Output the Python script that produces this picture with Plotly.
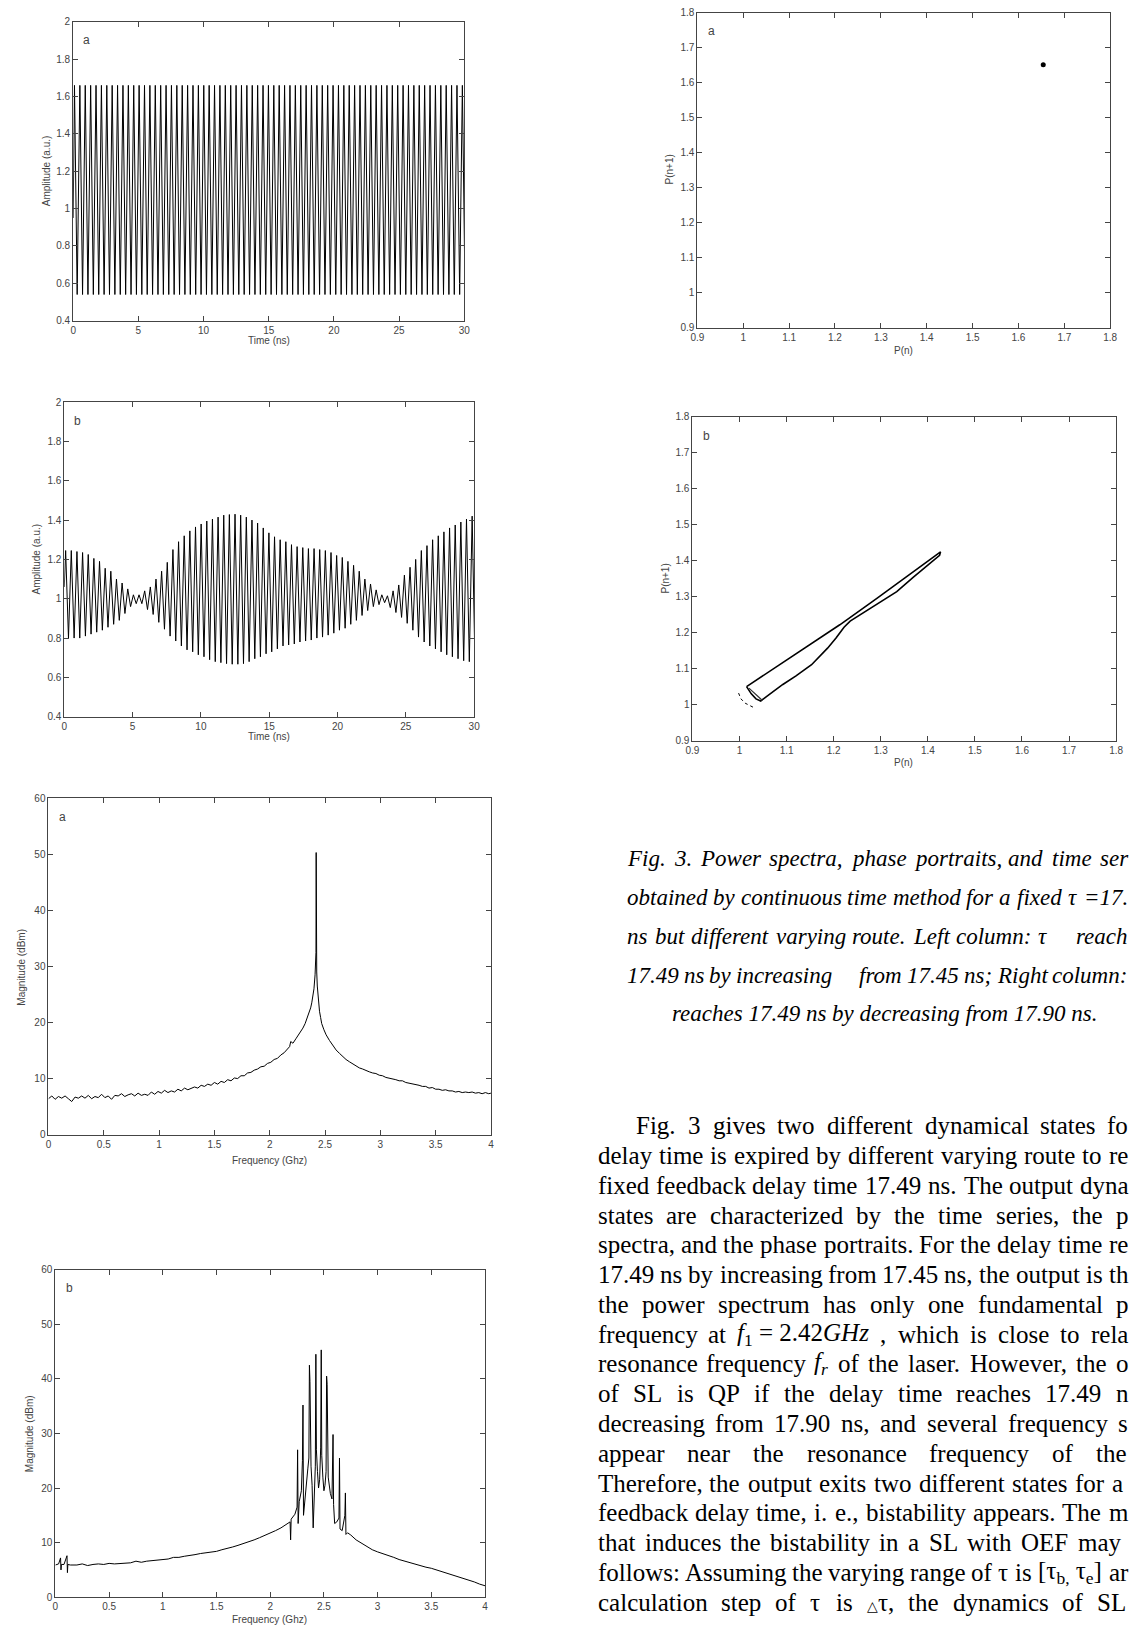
import plotly.graph_objects as go

W, H = 1135, 1633

# ---------------- data ----------------
osc_freq_ghz = 2.42          # oscillation frequency (a)
first_peak_t = 0.10          # ns

# time series (a): amplitude of each successive maximum / minimum
peaks_a = [1.66, 1.66, 1.66, 1.66, 1.66, 1.66, 1.66, 1.66, 1.66, 1.66, 1.66, 1.66, 1.66, 1.66, 1.66,
           1.66, 1.66, 1.66, 1.66, 1.66, 1.66, 1.66, 1.66, 1.66, 1.66, 1.66, 1.66, 1.66, 1.66, 1.66,
           1.66, 1.66, 1.66, 1.66, 1.66, 1.66, 1.66, 1.66, 1.66, 1.66, 1.66, 1.66, 1.66, 1.66, 1.66,
           1.66, 1.66, 1.66, 1.66, 1.66, 1.66, 1.66, 1.66, 1.66, 1.66, 1.66, 1.66, 1.66, 1.66, 1.66,
           1.66, 1.66, 1.66, 1.66, 1.66, 1.66, 1.66, 1.66, 1.66, 1.66, 1.66, 1.66, 1.66]
troughs_a = [0.54, 0.54, 0.54, 0.54, 0.54, 0.54, 0.54, 0.54, 0.54, 0.54, 0.54, 0.54, 0.54, 0.54, 0.54,
             0.54, 0.54, 0.54, 0.54, 0.54, 0.54, 0.54, 0.54, 0.54, 0.54, 0.54, 0.54, 0.54, 0.54, 0.54,
             0.54, 0.54, 0.54, 0.54, 0.54, 0.54, 0.54, 0.54, 0.54, 0.54, 0.54, 0.54, 0.54, 0.54, 0.54,
             0.54, 0.54, 0.54, 0.54, 0.54, 0.54, 0.54, 0.54, 0.54, 0.54, 0.54, 0.54, 0.54, 0.54, 0.54,
             0.54, 0.54, 0.54, 0.54, 0.54, 0.54, 0.54, 0.54, 0.54, 0.54, 0.54, 0.54, 0.54]
start_a = 0.95

# time series (b)
peaks_b = [1.245, 1.245, 1.24, 1.235, 1.225, 1.205, 1.19, 1.155, 1.14, 1.10, 1.08, 1.05, 1.02, 1.02,
           1.04, 1.06, 1.10, 1.14, 1.185, 1.25, 1.29, 1.32, 1.345, 1.365, 1.38, 1.395, 1.405, 1.415,
           1.425, 1.428, 1.43, 1.425, 1.415, 1.40, 1.385, 1.36, 1.335, 1.315, 1.30, 1.29, 1.275, 1.265,
           1.26, 1.255, 1.255, 1.25, 1.245, 1.235, 1.22, 1.21, 1.19, 1.17, 1.14, 1.10, 1.075, 1.045,
           1.02, 1.015, 1.04, 1.07, 1.12, 1.16, 1.20, 1.245, 1.27, 1.30, 1.32, 1.34, 1.36, 1.375,
           1.39, 1.405, 1.42]
troughs_b = [0.80, 0.80, 0.80, 0.81, 0.82, 0.83, 0.84, 0.855, 0.87, 0.89, 0.925, 0.96, 0.975, 0.975,
             0.945, 0.92, 0.88, 0.845, 0.81, 0.785, 0.76, 0.74, 0.73, 0.715, 0.705, 0.69, 0.68, 0.675,
             0.67, 0.667, 0.667, 0.67, 0.68, 0.695, 0.705, 0.72, 0.73, 0.745, 0.76, 0.765, 0.77, 0.78,
             0.785, 0.79, 0.80, 0.805, 0.815, 0.825, 0.84, 0.85, 0.87, 0.89, 0.915, 0.94, 0.96, 0.97,
             0.98, 0.955, 0.93, 0.905, 0.875, 0.84, 0.805, 0.78, 0.76, 0.745, 0.73, 0.715, 0.705, 0.695,
             0.685, 0.68, 0.675]
start_b = 1.06

# power spectrum (a)
freq_a = [0.00, 0.03, 0.06, 0.09, 0.12, 0.15, 0.18, 0.21, 0.24, 0.27, 0.30, 0.33, 0.36, 0.39, 0.42,
          0.45, 0.48, 0.51, 0.54, 0.57, 0.60, 0.63, 0.66, 0.69, 0.72, 0.75, 0.78, 0.81, 0.84, 0.87,
          0.90, 0.93, 0.96, 0.99, 1.02, 1.05, 1.08, 1.11, 1.14, 1.17, 1.20, 1.23, 1.26, 1.29, 1.32,
          1.35, 1.38, 1.41, 1.44, 1.47, 1.50, 1.53, 1.56, 1.59, 1.62, 1.65, 1.68, 1.71, 1.74, 1.77,
          1.80, 1.83, 1.86, 1.89, 1.92, 1.95, 1.98, 2.01, 2.04, 2.07, 2.10, 2.13, 2.16, 2.18, 2.19,
          2.21, 2.24, 2.27, 2.30, 2.32, 2.34, 2.36, 2.37, 2.38, 2.39, 2.40, 2.41, 2.415, 2.418, 2.42,
          2.422, 2.425, 2.43, 2.44, 2.45, 2.46, 2.47, 2.49, 2.51, 2.54, 2.57, 2.60, 2.63, 2.66, 2.69,
          2.72, 2.75, 2.78, 2.81, 2.84, 2.87, 2.90, 2.93, 2.96, 2.99, 3.02, 3.05, 3.08, 3.11, 3.14,
          3.17, 3.20, 3.23, 3.26, 3.29, 3.32, 3.35, 3.38, 3.41, 3.44, 3.47, 3.50, 3.53, 3.56, 3.59,
          3.62, 3.65, 3.68, 3.71, 3.74, 3.77, 3.80, 3.83, 3.86, 3.89, 3.92, 3.95, 3.98, 4.00]
mag_a = [6.4, 6.9, 6.3, 6.8, 6.5, 6.9, 6.4, 5.9, 6.7, 6.5, 6.9, 6.5, 7.0, 6.4, 6.8,
         6.6, 7.2, 6.6, 6.9, 6.3, 7.0, 6.9, 7.3, 6.8, 7.1, 7.3, 6.9, 7.4, 7.0, 7.2,
         7.0, 7.6, 7.2, 7.7, 7.4, 7.9, 7.5, 7.8, 7.6, 8.1, 7.8, 8.3, 8.0, 8.2, 8.5,
         8.3, 8.8, 8.6, 9.0, 8.8, 9.3, 9.0, 9.5, 9.3, 9.8, 9.6, 10.1, 10.0, 10.5, 10.5,
         11.0, 11.1, 11.5, 11.7, 12.1, 12.2, 12.7, 12.9, 13.4, 13.6, 14.2, 14.6, 15.3, 15.7, 16.6,
         16.3, 17.2, 18.0, 19.0, 19.8, 20.8, 21.9, 22.6, 23.5, 24.5, 26.0, 28.5, 31.0, 32.5, 50.3,
         32.0, 29.0, 26.5, 23.8, 22.0, 20.9, 19.8, 18.7, 17.8, 16.8, 15.9, 15.1, 14.5, 13.9, 13.4,
         13.0, 12.6, 12.3, 11.9, 11.7, 11.4, 11.2, 11.0, 10.9, 10.6, 10.5, 10.2, 10.1, 9.9, 9.8,
         9.6, 9.6, 9.3, 9.2, 9.0, 8.9, 8.8, 8.6, 8.6, 8.3, 8.4, 8.1, 8.1, 7.9, 8.0,
         7.8, 7.8, 7.6, 7.7, 7.5, 7.6, 7.5, 7.6, 7.4, 7.5, 7.3, 7.5, 7.3, 7.4]

# power spectrum (b)
freq_b = [0.00, 0.03, 0.048, 0.052, 0.056, 0.08, 0.108, 0.112, 0.116, 0.14, 0.20, 0.25, 0.30, 0.35,
          0.40, 0.45, 0.50, 0.55, 0.60, 0.65, 0.70, 0.75, 0.80, 0.85, 0.90, 0.95, 1.00, 1.05, 1.10,
          1.15, 1.20, 1.25, 1.30, 1.35, 1.40, 1.45, 1.50, 1.55, 1.60, 1.65, 1.70, 1.75, 1.80, 1.85,
          1.90, 1.95, 2.00, 2.05, 2.10, 2.15, 2.185, 2.19, 2.195, 2.23, 2.25, 2.255, 2.26, 2.27,
          2.29, 2.30, 2.305, 2.31, 2.33, 2.35, 2.36, 2.365, 2.37, 2.38, 2.39, 2.40, 2.41, 2.42,
          2.425, 2.43, 2.44, 2.45, 2.46, 2.47, 2.475, 2.48, 2.49, 2.50, 2.51, 2.52, 2.525, 2.53,
          2.54, 2.56, 2.575, 2.585, 2.59, 2.60, 2.62, 2.64, 2.645, 2.65, 2.67, 2.695, 2.70, 2.705,
          2.72, 2.75, 2.80, 2.85, 2.90, 2.95, 3.00, 3.05, 3.10, 3.15, 3.20, 3.25, 3.30, 3.35, 3.40,
          3.45, 3.50, 3.55, 3.60, 3.65, 3.70, 3.75, 3.80, 3.85, 3.90, 3.95, 4.00]
mag_b = [5.9, 6.1, 7.2, 5.0, 6.0, 6.0, 7.6, 4.5, 6.0, 5.9, 5.9, 6.1, 5.8, 6.0,
         6.1, 6.0, 6.2, 6.1, 6.2, 6.3, 6.3, 6.6, 6.4, 6.6, 6.7, 6.8, 7.0, 7.0, 7.3,
         7.3, 7.5, 7.6, 7.8, 8.0, 8.1, 8.3, 8.4, 8.7, 8.9, 9.2, 9.5, 9.8, 10.1, 10.5,
         10.9, 11.3, 11.7, 12.2, 12.7, 13.3, 13.8, 10.5, 14.3, 15.2, 16.5, 27.0, 13.5, 17.5,
         19.5, 25.0, 35.2, 15.0, 20.0, 23.5, 25.5, 42.5, 39.5, 24.0, 20.5, 12.7, 21.0, 24.0,
         44.5, 27.0, 23.0, 20.0, 21.5, 27.5, 45.3, 26.0, 22.0, 19.5, 20.5, 23.0, 40.5, 39.0,
         22.0, 19.0, 18.0, 29.8, 17.0, 13.5, 13.8, 14.5, 25.5, 12.5, 12.2, 15.0, 19.1, 11.5,
         11.8, 11.4, 10.5, 9.9, 9.2, 8.7, 8.3, 8.0, 7.6, 7.3, 6.9, 6.6, 6.3, 6.0, 5.8,
         5.5, 5.3, 5.0, 4.7, 4.4, 4.1, 3.8, 3.5, 3.1, 2.8, 2.4, 2.1]

# phase portrait (a): single fixed point
pp_a_x = [1.654]
pp_a_y = [1.652]

# phase portrait (b): closed loop
pp_b_x = [1.015, 1.075, 1.144, 1.213, 1.291, 1.369, 1.420, 1.427, 1.425, 1.407, 1.370, 1.334,
          1.300, 1.265, 1.235, 1.222, 1.205, 1.187, 1.153, 1.120, 1.092, 1.060, 1.045, 1.035,
          1.025, 1.015]
pp_b_y = [1.050, 1.102, 1.162, 1.222, 1.295, 1.369, 1.419, 1.425, 1.415, 1.396, 1.355, 1.314,
          1.286, 1.259, 1.232, 1.215, 1.185, 1.157, 1.111, 1.080, 1.056, 1.025, 1.010, 1.016,
          1.030, 1.050]
pp_b_inner_x = [1.020, 1.030, 1.040, 1.048]
pp_b_inner_y = [1.046, 1.035, 1.022, 1.012]
pp_b_arc_x = [0.998, 1.003, 1.012, 1.022, 1.030]
pp_b_arc_y = [1.032, 1.016, 1.004, 0.996, 0.992]

# ---------------- helpers ----------------
def dx(l, r):
    return [l / W, r / W]

def dy(t, b):
    return [1 - b / H, 1 - t / H]

def px(x):
    return x / W

def py(y):
    return 1 - y / H

period = 1.0 / osc_freq_ghz

def zigzag(start, peaks, troughs):
    xs, ys = [0.0], [start]
    for k, (p, q) in enumerate(zip(peaks, troughs)):
        t = first_peak_t + k * period
        xs += [t, t + period / 2]
        ys += [p, q]
    return xs, ys

ta_x, ta_y = zigzag(start_a, peaks_a, troughs_a)
tb_x, tb_y = zigzag(start_b, peaks_b, troughs_b)

fig = go.Figure()
line = dict(color='black', width=1)
fig.add_trace(go.Scatter(x=ta_x, y=ta_y, mode='lines', line=line, xaxis='x', yaxis='y'))
fig.add_trace(go.Scatter(x=tb_x, y=tb_y, mode='lines', line=line, xaxis='x2', yaxis='y2'))
fig.add_trace(go.Scatter(x=freq_a, y=mag_a, mode='lines', line=line, xaxis='x3', yaxis='y3'))
fig.add_trace(go.Scatter(x=freq_b, y=mag_b, mode='lines', line=line, xaxis='x4', yaxis='y4'))
fig.add_trace(go.Scatter(x=pp_a_x, y=pp_a_y, mode='markers', marker=dict(color='black', size=5),
                         xaxis='x5', yaxis='y5'))
fig.add_trace(go.Scatter(x=pp_b_x, y=pp_b_y, mode='lines', line=dict(color='black', width=1.6),
                         xaxis='x6', yaxis='y6'))
fig.add_trace(go.Scatter(x=pp_b_inner_x, y=pp_b_inner_y, mode='lines', line=dict(color='#333', width=1.2),
                         xaxis='x6', yaxis='y6'))
fig.add_trace(go.Scatter(x=pp_b_arc_x, y=pp_b_arc_y, mode='lines',
                         line=dict(color='black', width=1, dash='dot'), xaxis='x6', yaxis='y6'))

tickfont = dict(family='Liberation Sans, Arial, sans-serif', size=10, color='#444')
base = dict(showline=True, linecolor='#444', linewidth=1, mirror='ticks', ticks='inside', ticklen=5,
            tickcolor='#444', tickwidth=1, showgrid=False, zeroline=False, tickfont=tickfont,
            fixedrange=True)

panels = [
    # (left, right, top, bottom, xrange, xdtick, yrange, ydtick)
    (67, 463, 16, 317, [0, 30], 5, [0.4, 2], 0.2),
    (58, 473, 399, 716, [0, 30], 5, [0.4, 2], 0.2),
    (42, 490, 798, 1137, [0, 4], 0.5, [0, 60], 10),
    (49, 484, 1273, 1603, [0, 4], 0.5, [0, 60], 10),
    (699, 1117, 7, 324, [0.9, 1.8], 0.1, [0.9, 1.8], 0.1),
    (694, 1123, 414, 740, [0.9, 1.8], 0.1, [0.9, 1.8], 0.1),
]
layout = {}
for i, (l, r, t, b, xr, xd, yr, yd) in enumerate(panels, start=1):
    sfx = '' if i == 1 else str(i)
    layout['xaxis' + sfx] = dict(base, domain=dx(l, r), range=xr, dtick=xd, tick0=xr[0],
                                 anchor='y' + sfx)
    layout['yaxis' + sfx] = dict(base, domain=dy(t, b), range=yr, dtick=yd, tick0=yr[0],
                                 anchor='x' + sfx)
fig.update_layout(**layout)

anns = []
lab_font = dict(family='Liberation Sans, Arial, sans-serif', size=10, color='#444')

def title(x, y, text, angle=0):
    anns.append(dict(xref='paper', yref='paper', x=px(x), y=py(y), text=text, showarrow=False,
                     textangle=angle, font=lab_font, xanchor='center', yanchor='middle'))

# axis titles
title(265, 337, 'Time (ns)')
title(40, 166, 'Amplitude (a.u.)', -90)
title(265, 736, 'Time (ns)')
title(30, 557, 'Amplitude (a.u.)', -90)
title(266, 1163, 'Frequency (Ghz)')
title(15, 968, 'Magnitude (dBm)', -90)
title(266, 1625, 'Frequency (Ghz)')
title(23, 1438, 'Magnitude (dBm)', -90)
title(908, 347, 'P(n)')
title(671, 165, 'P(n+1)', -90)
title(908, 762, 'P(n)')
title(667, 577, 'P(n+1)', -90)

# panel letters
for sfx, letter in [('', 'a'), ('2', 'b'), ('3', 'a'), ('4', 'b'), ('5', 'a'), ('6', 'b')]:
    anns.append(dict(xref='x' + sfx + ' domain', yref='y' + sfx + ' domain', x=0.02, y=0.97,
                     text=letter, showarrow=False, xanchor='left', yanchor='top',
                     font=dict(family='Liberation Sans, Arial, sans-serif', size=12, color='#444')))

# ---------------- justified text (word by word) ----------------
W_REG = {' ': 250, ',': 250, '.': 250, ':': 278, ';': 278, '=': 564, '[': 333, ']': 333,
         'A': 722, 'E': 611, 'F': 556, 'G': 722, 'H': 722, 'L': 611, 'O': 722, 'P': 556,
         'Q': 722, 'R': 667, 'S': 556, 'T': 611,
         'a': 444, 'b': 500, 'c': 444, 'd': 500, 'e': 444, 'f': 333, 'g': 500, 'h': 500,
         'i': 278, 'j': 278, 'k': 500, 'l': 278, 'm': 778, 'n': 500, 'o': 500, 'p': 500,
         'q': 500, 'r': 333, 's': 389, 't': 278, 'u': 500, 'v': 500, 'w': 722, 'x': 500,
         'y': 500, 'z': 444, 'τ': 440}
W_IT = {' ': 250, ',': 250, '.': 250, ':': 333, ';': 333, '=': 675,
        'F': 611, 'L': 556, 'P': 611, 'R': 611,
        'a': 500, 'b': 500, 'c': 444, 'd': 500, 'e': 444, 'f': 278, 'g': 500, 'h': 500,
        'i': 278, 'j': 278, 'k': 444, 'l': 278, 'm': 722, 'n': 500, 'o': 500, 'p': 500,
        'q': 500, 'r': 389, 's': 389, 't': 278, 'u': 500, 'v': 444, 'w': 667, 'x': 444,
        'y': 444, 'z': 389, 'τ': 440}
for d in '0123456789':
    W_REG[d] = 500
    W_IT[d] = 500

def word_w(tok, italic):
    if isinstance(tok, tuple):
        return tok[1]
    table = W_IT if italic else W_REG
    return sum(table.get(c, 500) for c in tok) / 1000.0

def justify(tokens, x0, x1, y, size, italic):
    widths = [word_w(t, italic) * size for t in tokens]
    gap = (x1 - x0 - sum(widths)) / max(len(tokens) - 1, 1)
    font = dict(family='Liberation Serif, Times New Roman, serif', size=size, color='black')
    x = x0
    for tok, w in zip(tokens, widths):
        html = tok[0] if isinstance(tok, tuple) else tok
        if html:
            if italic:
                html = '<i>' + html + '</i>'
            anns.append(dict(xref='paper', yref='paper', x=px(x), y=py(y), text=html,
                             showarrow=False, xanchor='left', yanchor='middle', font=font,
                             borderpad=0, borderwidth=0))
        x += w + gap

CAP_SIZE = 23
caption_lines = [
    (859, 'Fig. 3. Power spectra, phase portraits, and time ser'.split(' '), 1135),
    (898, 'obtained by continuous time method for a fixed τ =17.'.split(' '), 1135),
    (937, 'ns but different varying route. Left column: τ'.split(' ') + [('', 0.6), 'reach'], 1135),
    (977, '17.49 ns by increasing'.split(' ') + [('', 0.7)] +
     'from 17.45 ns; Right column:'.split(' '), 1133),
]
for y, toks, x1 in caption_lines:
    justify(toks, 628, x1, y, CAP_SIZE, True)
anns.append(dict(xref='paper', yref='paper', x=px(673), y=py(1015),
                 text='<i>reaches 17.49 ns by decreasing from 17.90 ns.</i>', showarrow=False,
                 xanchor='left', yanchor='middle', borderpad=0, borderwidth=0,
                 font=dict(family='Liberation Serif, Times New Roman, serif', size=CAP_SIZE,
                           color='black')))

BODY_SIZE = 25
F1 = ('<i>f</i><sub>1</sub> = 2.42<i>GHz</i>', 5.3)
FR = ('<i>f</i><sub><i>r</i></sub>', 0.6)
TAU_BE = ('[τ<sub>b,</sub> τ<sub>e</sub>]', 2.6)
DTAU = ('<span style="font-size:14px">△</span>τ,', 1.05)

def ws(s):
    return s.split(' ')

paragraph = [
    (637, ws('Fig. 3 gives two different dynamical states fo'), 1135),
    (598, ws('delay time is expired by different varying route to re'), 1135),
    (598, ws('fixed feedback delay time 17.49 ns. The output dyna'), 1135),
    (598, ws('states are characterized by the time series, the p'), 1135),
    (598, ws('spectra, and the phase portraits. For the delay time re'), 1135),
    (598, ws('17.49 ns by increasing from 17.45 ns, the output is th'), 1135),
    (598, ws('the power spectrum has only one fundamental p'), 1135),
    (598, ws('frequency at') + [F1] + ws(', which is close to rela'), 1135),
    (598, ws('resonance frequency') + [FR] + ws('of the laser. However, the o'), 1135),
    (598, ws('of SL is QP if the delay time reaches 17.49 n'), 1135),
    (598, ws('decreasing from 17.90 ns, and several frequency s'), 1135),
    (598, ws('appear near the resonance frequency of the'), 1133),
    (598, ws('Therefore, the output exits two different states for a'), 1130),
    (598, ws('feedback delay time, i. e., bistability appears. The m'), 1135),
    (598, ws('that induces the bistability in a SL with OEF may'), 1127),
    (598, ws('follows: Assuming the varying range of τ is') + [TAU_BE] + ['ar'], 1135),
    (598, ws('calculation step of τ is') + [DTAU] + ws('the dynamics of SL'), 1133),
]
for i, (x0, toks, x1) in enumerate(paragraph):
    justify(toks, x0, x1, 1128 + 30 * i, BODY_SIZE, False)

fig.update_layout(annotations=anns, width=W, height=H, margin=dict(l=0, r=0, t=0, b=0),
                  paper_bgcolor='white', plot_bgcolor='white', showlegend=False)

fig.write_html('out.html', config={'displayModeBar': False},
               post_script="document.body.style.margin='0';document.body.style.padding='0';")
